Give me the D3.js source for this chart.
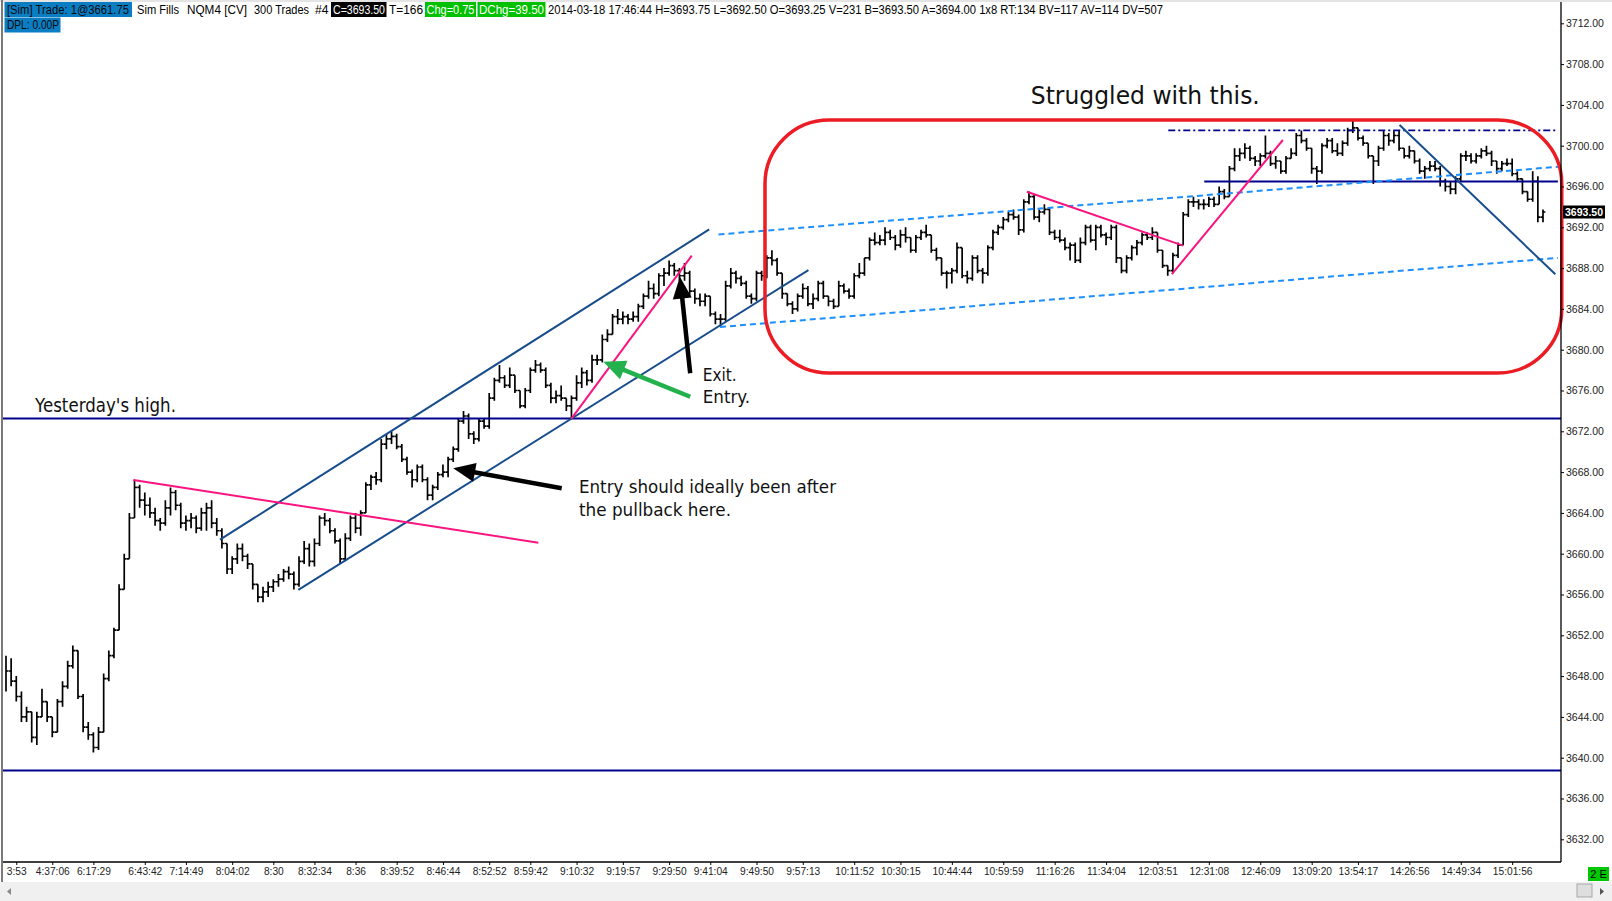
<!DOCTYPE html>
<html>
<head>
<meta charset="utf-8">
<script src="https://cdn.jsdelivr.net/npm/d3@7"></script>
<style>
body { margin: 0; background: #fff; overflow: hidden; }
svg { display: block; }
</style>
</head>
<body>
<div id="chart"></div>
<script>
// NQM4 300-trade bars, 2014-03-18
var barHigh = [
 3650, 3649.75, 3648, 3646.5, 3645, 3644.5, 3644.5, 3646.75, 3645.5, 3644,
 3645.75, 3647.5, 3649.5, 3651, 3650.5, 3646.25, 3643.5, 3642.5, 3643, 3648.25,
 3650.5, 3652.75, 3657, 3660, 3664, 3667.25, 3666.75, 3666, 3665.5, 3664.5,
 3663.5, 3665.25, 3666.5, 3666.25, 3665, 3663.75, 3664, 3663.75, 3664.5, 3665,
 3665.25, 3663.5, 3662.5, 3661, 3659.75, 3661, 3661, 3660, 3659, 3657,
 3656.75, 3657.25, 3657.5, 3658, 3658.5, 3658.75, 3658.25, 3659.75, 3661.25, 3661,
 3661.5, 3663.75, 3664, 3663.5, 3662.5, 3661.5, 3662, 3663.75, 3664, 3664.25,
 3667, 3667.75, 3668, 3671.25, 3671.75, 3672, 3671.75, 3670.75, 3669.5, 3668.25,
 3668.75, 3668.75, 3667.5, 3666.75, 3668, 3668.75, 3669.5, 3670.5, 3673.25, 3674,
 3673.75, 3672, 3673.25, 3673.25, 3675.75, 3677.25, 3678.5, 3677.5, 3678.25, 3677.5,
 3676, 3676.25, 3678.25, 3679, 3678.75, 3678.25, 3676.75, 3676, 3676.5, 3675.25,
 3675.5, 3677.5, 3678.25, 3678, 3679.5, 3679.5, 3681.5, 3682, 3683.5, 3684,
 3683.75, 3683.5, 3683.75, 3684.5, 3685.5, 3686.75, 3686.5, 3687.5, 3688, 3688.75,
 3688.5, 3688, 3688.5, 3687.75, 3686, 3685.5, 3685.5, 3685.25, 3683.75, 3683.5,
 3686.75, 3688, 3687.75, 3687.25, 3686.75, 3685.5, 3687.75, 3687.75, 3689.25, 3689.75,
 3689, 3687.5, 3685.5, 3684.75, 3685.5, 3686.5, 3686.25, 3685.5, 3686.75, 3686.75,
 3685.25, 3685, 3686.75, 3686.5, 3686, 3687.5, 3688.5, 3689, 3691, 3691.5,
 3691.25, 3692, 3691.75, 3691.25, 3691.75, 3692, 3691, 3691.25, 3691.75, 3692.25,
 3691.25, 3690, 3689, 3687.75, 3688, 3690.5, 3690, 3687.75, 3689.25, 3689.25,
 3688, 3690.25, 3691.75, 3692.25, 3693, 3693.5, 3693.75, 3693.25, 3694.75, 3695.5,
 3695.25, 3693.75, 3694.25, 3694, 3691.75, 3691.75, 3691, 3690.5, 3690.5, 3691,
 3692.25, 3692.25, 3692.25, 3692.25, 3691.5, 3692.25, 3692.25, 3689, 3689.25, 3690.25,
 3690.75, 3691.5, 3691.5, 3692, 3691.5, 3689.75, 3688.25, 3689.5, 3690.5, 3693.5,
 3694.75, 3695, 3694.75, 3694.75, 3695, 3695, 3696, 3695.75, 3698, 3699.75,
 3699.75, 3700.25, 3700, 3699, 3699.25, 3701, 3699.5, 3699, 3698.5, 3699,
 3699.75, 3701.25, 3701.5, 3700.75, 3699.75, 3698, 3700.25, 3700.75, 3700.75, 3700.25,
 3700.5, 3701.75, 3702.5, 3701.75, 3701, 3700.25, 3699, 3700, 3701.5, 3701.25,
 3701.5, 3701.5, 3699.75, 3700, 3699.5, 3698.75, 3698, 3698.5, 3698.5, 3698,
 3696.75, 3696.5, 3697, 3699.25, 3699.5, 3699.25, 3699.25, 3699.75, 3700, 3699.5,
 3698.5, 3698.5, 3698.75, 3698.75, 3697.5, 3696.75, 3695.5, 3697.5, 3697, 3693.75
];
var barLow = [
 3646.5, 3647, 3645.5, 3643.5, 3643.5, 3641.5, 3641.25, 3644, 3643.5, 3642,
 3642.5, 3645, 3646.75, 3648.75, 3645.75, 3642.5, 3641.75, 3640.5, 3640.75, 3642.5,
 3647.5, 3649.75, 3652.5, 3656.5, 3659.5, 3663.5, 3664.5, 3663.75, 3663.5, 3662.75,
 3662.25, 3662.75, 3663.75, 3664.25, 3662.5, 3662.25, 3662.5, 3662, 3662.25, 3662.25,
 3662.5, 3661.75, 3660.5, 3658, 3658, 3659, 3659.25, 3658.5, 3656.5, 3655.25,
 3655.25, 3655.75, 3656.25, 3656.75, 3657.25, 3657.5, 3656.5, 3656.75, 3659, 3658.75,
 3658.75, 3660.75, 3662.75, 3662, 3661, 3659, 3659.25, 3661.25, 3662, 3661.75,
 3664, 3666.25, 3666.75, 3667, 3670.25, 3670.75, 3670.25, 3669, 3667.75, 3666.5,
 3667, 3667, 3665.25, 3665.25, 3666.25, 3667.5, 3667.5, 3669, 3670, 3672.75,
 3671.25, 3670.75, 3671, 3672.25, 3672.25, 3675, 3676.75, 3676.25, 3676.25, 3675.75,
 3674.25, 3674.25, 3675.75, 3677.75, 3677.75, 3676.25, 3674.75, 3674.75, 3675, 3674,
 3673.25, 3675, 3676.25, 3676.5, 3676.75, 3678.5, 3678.75, 3680.75, 3681.5, 3682.5,
 3682.5, 3682.5, 3682.75, 3682.75, 3684, 3685, 3685, 3685.25, 3686.25, 3687.25,
 3687.25, 3686.75, 3686.75, 3685.25, 3684.5, 3684.25, 3684.25, 3683.25, 3682.5, 3682.25,
 3682.75, 3686, 3686.5, 3686.25, 3685, 3684.5, 3684.75, 3686.75, 3687, 3688.25,
 3687.25, 3685, 3684.25, 3683.5, 3683.75, 3685, 3684.25, 3684, 3684.75, 3685,
 3684.25, 3684, 3684.25, 3685.5, 3685, 3685, 3687, 3687.25, 3688.75, 3690.25,
 3690.25, 3690.25, 3690.75, 3689.75, 3690, 3690.5, 3689.5, 3689.5, 3690.75, 3691,
 3689.5, 3688.75, 3687.25, 3686, 3686.5, 3687.5, 3687, 3686.5, 3686.75, 3687.5,
 3686.5, 3687.25, 3689.75, 3691.25, 3691.75, 3692.5, 3692.75, 3691.25, 3691.5, 3694.25,
 3692.75, 3692.5, 3693.25, 3691.25, 3690.75, 3690.5, 3689.75, 3688.75, 3688.5, 3688.5,
 3690.25, 3690.5, 3689.75, 3691, 3690.25, 3690.75, 3688.5, 3687.5, 3687.5, 3688.75,
 3689.25, 3690.25, 3690.75, 3690.75, 3689.5, 3688, 3687.25, 3687.5, 3689, 3690.25,
 3693, 3694, 3693.75, 3693.75, 3694, 3694, 3694.25, 3694.75, 3695, 3697.5,
 3698.5, 3698.75, 3698.5, 3698, 3698, 3698.75, 3698, 3697.75, 3697.25, 3697.25,
 3698.75, 3699, 3700.25, 3699.5, 3697.25, 3696.25, 3697.25, 3699.75, 3699.25, 3699,
 3699, 3700, 3701.25, 3700.5, 3700, 3698.75, 3696.25, 3698, 3699.5, 3700,
 3700.25, 3699.5, 3698.75, 3698.75, 3698.25, 3697.25, 3696.75, 3697.5, 3697.5, 3696,
 3695.5, 3695.25, 3695.25, 3696.5, 3698.5, 3698.25, 3698.25, 3698.75, 3699, 3698,
 3697.25, 3697.5, 3698, 3697, 3696.5, 3695.25, 3694.5, 3694.5, 3692.5, 3692.5
];
var barClose = [
 3648.5, 3647.5, 3646, 3644, 3644.5, 3642, 3644, 3645.5, 3644, 3642.5,
 3645.5, 3647, 3649, 3650.5, 3646, 3643, 3642.25, 3641, 3642.5, 3647.75,
 3650, 3652.5, 3656.5, 3659.5, 3663.5, 3666.5, 3665.25, 3664.75, 3664, 3663.25,
 3663, 3664.5, 3666, 3664.75, 3663, 3663.25, 3663.5, 3662.5, 3664, 3664.5,
 3663, 3662.25, 3661, 3658.5, 3659.5, 3660.5, 3659.75, 3659, 3657, 3655.75,
 3656.25, 3656.75, 3657.25, 3657.5, 3658.25, 3658, 3657, 3659.25, 3660.5, 3659.25,
 3661, 3663.5, 3663.25, 3662.25, 3661.25, 3659.5, 3661.5, 3663.5, 3662.5, 3664,
 3666.75, 3667.5, 3667.25, 3670.75, 3671.25, 3671.5, 3670.5, 3669.25, 3668, 3667.25,
 3668.5, 3667.25, 3665.75, 3666.5, 3667.75, 3668, 3669.25, 3670.25, 3673, 3673.5,
 3671.75, 3671.25, 3673, 3672.5, 3675.25, 3677, 3677.25, 3676.5, 3677.5, 3676,
 3674.5, 3676, 3678, 3678.5, 3678, 3676.5, 3675.25, 3675.5, 3675.25, 3674.5,
 3675.25, 3676.75, 3677.75, 3677, 3679, 3679, 3681, 3681.5, 3683.25, 3683,
 3683.25, 3683, 3683.25, 3684.25, 3685.25, 3686, 3685.5, 3687.25, 3687.5, 3688.25,
 3687.75, 3687.25, 3687.5, 3685.75, 3685, 3684.75, 3685.25, 3683.5, 3683, 3683,
 3686.25, 3687.5, 3687, 3686.5, 3685.25, 3685, 3687.5, 3687.25, 3689, 3688.75,
 3687.5, 3685.5, 3684.5, 3684, 3685.25, 3686, 3684.5, 3685, 3686.5, 3685.25,
 3684.75, 3684.25, 3686.25, 3685.75, 3685.25, 3687.25, 3687.5, 3689, 3690.75, 3690.5,
 3690.75, 3691.5, 3691, 3690.25, 3691.25, 3691, 3689.75, 3691, 3691.5, 3691.25,
 3689.75, 3689, 3687.5, 3687.5, 3687.75, 3690, 3687.25, 3687, 3689, 3687.75,
 3687.5, 3690, 3691.5, 3692, 3692.75, 3693.25, 3693, 3691.75, 3694.5, 3695,
 3693, 3693.5, 3693.75, 3691.5, 3691, 3690.75, 3690, 3690.25, 3688.75, 3690.5,
 3692, 3690.75, 3692, 3691.25, 3691, 3692, 3689, 3687.75, 3689, 3690,
 3690.5, 3691.25, 3691, 3691.5, 3689.75, 3688.25, 3687.75, 3689.25, 3690.25, 3693.25,
 3694.5, 3694.5, 3694.25, 3694.25, 3694.75, 3694.25, 3695.5, 3695, 3697.75, 3699,
 3699.25, 3699.75, 3698.75, 3698.5, 3699, 3699.25, 3698.25, 3698.5, 3697.5, 3698.75,
 3699.25, 3701, 3700.5, 3699.75, 3697.75, 3697.5, 3700, 3700.5, 3699.5, 3699.25,
 3700.25, 3701.5, 3701.75, 3700.75, 3700.25, 3699, 3698.5, 3699.75, 3701, 3700.5,
 3701, 3699.75, 3699, 3699.5, 3698.5, 3697.5, 3697.75, 3698, 3697.75, 3696.5,
 3696, 3695.75, 3696.75, 3699, 3699, 3698.5, 3699, 3699.5, 3699.25, 3698.5,
 3697.75, 3698.25, 3698.25, 3697.25, 3696.75, 3695.5, 3694.75, 3696.5, 3693, 3693.5
];

var timeLabels = ["3:53", "4:37:06", "6:17:29", "6:43:42", "7:14:49", "8:04:02", "8:30", "8:32:34",
 "8:36", "8:39:52", "8:46:44", "8:52:52", "8:59:42", "9:10:32", "9:19:57", "9:29:50", "9:41:04",
 "9:49:50", "9:57:13", "10:11:52", "10:30:15", "10:44:44", "10:59:59", "11:16:26", "11:34:04",
 "12:03:51", "12:31:08", "12:46:09", "13:09:20", "13:54:17", "14:26:56", "14:49:34", "15:01:56"];
var timeTickBars = [2, 9, 17, 27, 35, 44, 52, 60, 68, 76, 85, 94, 102, 111, 120, 129, 137,
 146, 155, 165, 174, 184, 194, 204, 214, 224, 234, 244, 254, 263, 273, 283, 293];
var priceTicks = [3632, 3636, 3640, 3644, 3648, 3652, 3656, 3660, 3664, 3668, 3672,
 3676, 3680, 3684, 3688, 3692, 3696, 3700, 3704, 3708, 3712];

// drawing objects, as [barFrom, priceFrom, barTo, priceTo]
var levelPrices = [3673.25, 3638.75];
var pinkLines = [[24.77, 3667.23, 103.56, 3661.08], [110.0, 3673.24, 133.4, 3689.22],
 [198.6, 3695.49, 229.0, 3690.2], [226.8, 3687.42, 248.4, 3700.56]];
var channelLines = [[41.63, 3661.38, 136.8, 3691.79], [56.87, 3656.45, 156.1, 3687.81],
 [271.1, 3702.03, 301.4, 3687.39]];
var dashedLines = [[138.6, 3691.3, 301.9, 3697.93], [138.9, 3682.23, 301.9, 3689.0]];
var rayLines = [[233.1, 3696.5, 301.9, 3696.5]];
var dashDotLines = [[226.1, 3701.5, 301.9, 3701.5]];
var boxRegion = [147.65, 3702.52, 302.65, 3677.72];
var blackArrows = [[108.1, 3666.41, 87.0, 3668.37], [133.1, 3677.69, 131.1, 3687.16]];
var greenArrows = [[133.1, 3675.39, 116.2, 3678.82]];

var noteText = ["Struggled with this.", "Yesterday's high.", "Entry should ideally been after",
 "the pullback here.", "Exit.", "Entry."];
var noteBar = [199.36, 5.64, 111.47, 111.47, 135.53, 135.53];
var notePrice = [3704.10, 3673.92, 3665.98, 3663.66, 3676.93, 3674.80];

var width = 1612, height = 901;
var plotLeft = 3, plotRight = 1561, plotBottom = 862;

var svg = d3.select('#chart').append('svg')
  .attr('width', width)
  .attr('height', height);

svg.append('rect').attr('width', width).attr('height', height).attr('fill', '#fff');

svg.append('defs').append('clipPath').attr('id', 'plotClip')
  .append('rect').attr('x', plotLeft).attr('y', 0)
  .attr('width', plotRight - plotLeft).attr('height', plotBottom);

var x = d3.scaleLinear().domain([0, barClose.length - 1]).range([6, 1543]);
var y = d3.scaleLinear().domain([3632, 3712]).range([839.3, 23.3]);

// frame bits
svg.append('rect').attr('x', 0).attr('y', 0).attr('width', width).attr('height', 2).attr('fill', '#e4e4e4');
svg.append('line').attr('x1', 2).attr('x2', 2).attr('y1', 0).attr('y2', 882)
  .attr('stroke', '#7a7a7a').attr('stroke-width', 2);

var plot = svg.append('g').attr('clip-path', 'url(#plotClip)');

// bars
var d = '';
barClose.forEach(function(c, i) {
  var bx = x(i);
  d += 'M' + bx + ',' + y(barHigh[i]) + 'V' + y(barLow[i]);
  if (i > 0) d += 'M' + (bx - 2.4) + ',' + y(barClose[i - 1]) + 'H' + bx;
  d += 'M' + bx + ',' + y(c) + 'H' + (bx + 2.4);
});
plot.append('path').attr('d', d)
  .attr('fill', 'none')
  .attr('stroke', '#000')
  .attr('stroke-width', 1.7);

// horizontal levels
plot.selectAll('line.level').data(levelPrices).join('line')
  .attr('class', 'level')
  .attr('x1', plotLeft).attr('x2', plotRight)
  .attr('y1', function(p) { return y(p); })
  .attr('y2', function(p) { return y(p); })
  .attr('stroke', '#00008b').attr('stroke-width', 2);

function drawSegs(data, color, w, dash) {
  plot.append('g').selectAll('line').data(data).join('line')
    .attr('x1', function(s) { return x(s[0]); })
    .attr('y1', function(s) { return y(s[1]); })
    .attr('x2', function(s) { return x(s[2]); })
    .attr('y2', function(s) { return y(s[3]); })
    .attr('stroke', color)
    .attr('stroke-width', w)
    .attr('stroke-dasharray', dash);
}
drawSegs(rayLines, '#00008b', 2, null);
drawSegs(dashDotLines, '#00008b', 1.6, '7,3,2,3');
drawSegs(dashedLines, '#1e8fff', 2, '6,4');
drawSegs(channelLines, '#174d8c', 2, null);
drawSegs(pinkLines, '#fa1480', 2, null);

// red box round the range
svg.append('rect')
  .attr('x', x(boxRegion[0])).attr('y', y(boxRegion[1]))
  .attr('width', x(boxRegion[2]) - x(boxRegion[0]))
  .attr('height', y(boxRegion[3]) - y(boxRegion[1]))
  .attr('rx', 64).attr('ry', 64)
  .attr('fill', 'none').attr('stroke', '#ec1c24').attr('stroke-width', 3.5);

// arrows
function arrow(a, color, headLen, headW, shaftW) {
  var x1 = x(a[0]), y1 = y(a[1]), x2 = x(a[2]), y2 = y(a[3]);
  var dx = x2 - x1, dy = y2 - y1, len = Math.sqrt(dx * dx + dy * dy);
  var ux = dx / len, uy = dy / len;
  var bx = x2 - ux * headLen, by = y2 - uy * headLen;
  svg.append('line').attr('x1', x1).attr('y1', y1).attr('x2', bx + ux * 2).attr('y2', by + uy * 2)
    .attr('stroke', color).attr('stroke-width', shaftW);
  svg.append('path')
    .attr('d', 'M' + x2 + ',' + y2 + 'L' + (bx - uy * headW) + ',' + (by + ux * headW) +
      'L' + (bx + uy * headW) + ',' + (by - ux * headW) + 'Z')
    .attr('fill', color);
}
blackArrows.forEach(function(a) { arrow(a, '#000', 22, 9.5, 4.5); });
greenArrows.forEach(function(a) { arrow(a, '#22b14c', 22, 10, 4.5); });

// notes
var noteSize = [25, 19, 18.5, 18.5, 18.5, 18.5];
var noteLen = [229, 141, 257, 152, 34, 47.5];
svg.append('g').selectAll('text').data(noteText).join('text')
  .attr('x', function(t, i) { return x(noteBar[i]); })
  .attr('y', function(t, i) { return y(notePrice[i]); })
  .attr('font-family', 'DejaVu Sans, sans-serif')
  .attr('font-size', function(t, i) { return noteSize[i]; })
  .attr('textLength', function(t, i) { return noteLen[i]; })
  .attr('lengthAdjust', 'spacingAndGlyphs')
  .attr('fill', '#111')
  .text(function(t) { return t; });

// axes
svg.append('line').attr('x1', plotRight).attr('x2', plotRight).attr('y1', 2).attr('y2', plotBottom)
  .attr('stroke', '#000').attr('stroke-width', 1.3);
svg.append('line').attr('x1', plotLeft).attr('x2', plotRight).attr('y1', plotBottom).attr('y2', plotBottom)
  .attr('stroke', '#000').attr('stroke-width', 1.3);

var yAxis = d3.axisRight(y).tickValues(priceTicks).tickSize(3).tickPadding(2)
  .tickFormat(d3.format('.2f'));
svg.append('g').attr('transform', 'translate(' + plotRight + ',0)')
  .call(yAxis)
  .call(function(g) { g.select('.domain').remove(); })
  .call(function(g) {
    g.selectAll('text').attr('font-family', 'Liberation Sans, Arial, sans-serif')
      .attr('font-size', 10.5).attr('fill', '#222');
  });

var xAxis = d3.axisBottom(x).tickValues(timeTickBars).tickSize(3).tickPadding(3)
  .tickFormat(function(dv, i) { return timeLabels[i]; });
svg.append('g').attr('transform', 'translate(0,' + plotBottom + ')')
  .call(xAxis)
  .call(function(g) { g.select('.domain').remove(); })
  .call(function(g) {
    g.selectAll('text').attr('font-family', 'Liberation Sans, Arial, sans-serif')
      .attr('font-size', 10.2).attr('fill', '#222');
  });

// last price marker
var last = barClose[barClose.length - 1];
svg.append('rect').attr('x', 1563).attr('y', y(last) - 6.5).attr('width', 42).attr('height', 13).attr('fill', '#000');
svg.append('text').attr('x', 1565).attr('y', y(last)).attr('dy', '0.35em')
  .attr('font-family', 'Liberation Sans, Arial, sans-serif').attr('font-size', 10.5)
  .attr('font-weight', 'bold').attr('fill', '#fff')
  .attr('textLength', 38).attr('lengthAdjust', 'spacingAndGlyphs')
  .text(d3.format('.2f')(last));

// header line
var header = svg.append('g').attr('font-family', 'Liberation Sans, Arial, sans-serif').attr('font-size', 12);
var headSegs = [
  { t: '[Sim]  Trade: 1@3661.75', x: 7, w: 122, bx: 4.5, bw: 127.5, bg: '#0b7dc3', fg: '#0a0a0a', row: 0 },
  { t: 'Sim Fills', x: 137, w: 42, row: 0 },
  { t: 'NQM4 [CV]', x: 187, w: 60, row: 0 },
  { t: '300 Trades', x: 254, w: 55, row: 0 },
  { t: '#4', x: 315, w: 13.5, row: 0 },
  { t: 'C=3693.50', x: 333, w: 52, bx: 331, bw: 55.5, bg: '#000', fg: '#fff', row: 0 },
  { t: 'T=166', x: 389, w: 34, row: 0 },
  { t: 'Chg=0.75', x: 426.5, w: 48, bx: 425, bw: 51, bg: '#00c000', fg: '#fff', row: 0 },
  { t: 'DChg=39.50', x: 479, w: 65, bx: 477.5, bw: 68, bg: '#00c000', fg: '#fff', row: 0 },
  { t: '2014-03-18 17:46:44 H=3693.75 L=3692.50 O=3693.25 V=231 B=3693.50 A=3694.00 1x8 RT:134 BV=117 AV=114 DV=507',
    x: 548, w: 615, row: 0 },
  { t: 'DPL: 0.00P', x: 7, w: 52, bx: 4.5, bw: 56, bg: '#0b7dc3', fg: '#0a0a0a', row: 1 }
];
headSegs.forEach(function(s) {
  var top = s.row === 0 ? 2 : 17.5;
  if (s.bg) {
    header.append('rect').attr('x', s.bx).attr('y', top).attr('width', s.bw).attr('height', 15).attr('fill', s.bg);
  }
  header.append('text').attr('x', s.x).attr('y', top + 11.8)
    .attr('textLength', s.w).attr('lengthAdjust', 'spacingAndGlyphs')
    .attr('fill', s.fg || '#000')
    .text(s.t);
});

// scrollbar strip at the bottom
svg.append('rect').attr('x', 0).attr('y', 882).attr('width', width).attr('height', 19).attr('fill', '#f0f0f0');
svg.append('path').attr('d', 'M7,891.5L11,888V895Z').attr('fill', '#8a8a8a');
svg.append('rect').attr('x', 1577).attr('y', 884).attr('width', 15).attr('height', 13)
  .attr('fill', '#dedede').attr('stroke', '#a8a8a8');
svg.append('path').attr('d', 'M1600,888V895L1604,891.5Z').attr('fill', '#555');

svg.append('rect').attr('x', 1588).attr('y', 867).attr('width', 21).attr('height', 14).attr('fill', '#00c800');
svg.append('text').attr('x', 1598.5).attr('y', 878).attr('text-anchor', 'middle')
  .attr('font-family', 'Liberation Sans, Arial, sans-serif').attr('font-size', 11).attr('fill', '#000')
  .text('2 E');
</script>
</body>
</html>
